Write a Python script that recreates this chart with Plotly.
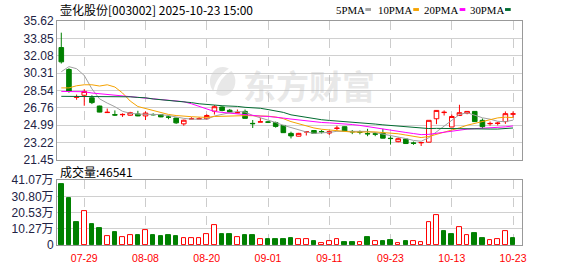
import plotly.graph_objects as go

# ---------------- data ----------------
dates = ["07-24","07-25","07-28","07-29","07-30","07-31","08-01","08-04","08-05","08-06",
         "08-07","08-08","08-11","08-12","08-13","08-14","08-15","08-18","08-19","08-20",
         "08-21","08-22","08-25","08-26","08-27","08-28","08-29","09-01","09-02","09-03",
         "09-04","09-05","09-08","09-09","09-10","09-11","09-12","09-15","09-16","09-17",
         "09-18","09-19","09-22","09-23","09-24","09-25","09-26","09-29","09-30","10-09",
         "10-10","10-13","10-14","10-15","10-16","10-17","10-20","10-21","10-22","10-23"]

opens = [32.91, 30.67, 27.83, 28.04, 27.78, 26.94, 26.27, 26.06, 26.05, 26.00,
         26.13, 25.93, 26.08, 26.07, 25.83, 25.71, 25.12, 25.62, 25.62, 25.64,
         26.42, 26.84, 26.51, 26.24, 26.39, 25.17, 25.30, 25.32, 25.25, 24.96,
         24.15, 23.86, 24.30, 24.44, 24.34, 24.18, 24.65, 24.83, 24.34, 24.30,
         24.13, 24.10, 24.18, 23.65, 23.30, 23.57, 23.17, 23.19, 23.25, 25.64,
         26.27, 24.80, 25.97, 26.22, 26.39, 25.48, 25.13, 25.16, 25.35, 26.11]
highs = [34.43, 30.80, 28.11, 28.66, 28.04, 26.97, 26.68, 26.49, 26.19, 26.35,
         26.45, 26.39, 26.20, 26.10, 25.97, 25.75, 25.55, 25.80, 25.80, 26.10,
         27.04, 26.90, 26.64, 26.58, 26.58, 25.51, 25.74, 25.41, 25.35, 24.98,
         24.32, 24.20, 24.34, 24.46, 24.49, 24.44, 24.93, 24.85, 24.49, 24.44,
         24.61, 24.27, 24.61, 23.86, 23.73, 23.60, 23.31, 23.22, 25.50, 26.52,
         26.49, 26.07, 27.07, 26.41, 26.41, 25.67, 25.35, 25.32, 26.39, 26.39]
lows = [31.28, 28.30, 27.58, 26.97, 27.14, 26.30, 26.26, 25.93, 25.83, 25.95,
        25.90, 25.51, 25.98, 25.80, 25.59, 25.12, 24.93, 25.62, 25.62, 25.55,
        26.07, 26.40, 26.30, 26.24, 25.66, 24.70, 25.30, 25.20, 24.73, 24.20,
        23.63, 23.84, 23.93, 24.13, 24.13, 23.99, 24.44, 24.36, 24.07, 24.05,
        23.86, 23.86, 23.64, 23.00, 23.24, 23.09, 22.98, 22.86, 23.23, 25.09,
        25.97, 24.78, 25.97, 26.10, 25.33, 24.67, 24.93, 24.96, 25.12, 25.74]
closes = [31.45, 28.43, 27.87, 28.43, 27.29, 26.32, 26.30, 26.02, 26.08, 26.26,
          25.93, 26.22, 26.05, 25.83, 25.80, 25.22, 25.49, 25.64, 25.64, 25.97,
          26.87, 26.49, 26.32, 26.27, 25.68, 25.14, 25.33, 25.29, 24.86, 24.22,
          23.89, 24.15, 24.32, 24.15, 24.31, 24.32, 24.68, 24.38, 24.31, 24.27,
          24.10, 24.07, 23.66, 23.62, 23.60, 23.11, 23.14, 23.21, 25.48, 26.49,
          26.30, 25.87, 26.26, 26.39, 25.35, 24.83, 25.16, 25.19, 26.16, 26.14]

ma5 = [30.44, 30.96, 30.75, 30.06, 28.69, 27.67, 27.24, 26.87, 26.40, 26.20,
       26.12, 26.10, 26.11, 26.06, 25.97, 25.82, 25.68, 25.60, 25.56, 25.59,
       25.92, 26.12, 26.26, 26.38, 26.33, 25.98, 25.75, 25.54, 25.26, 24.97,
       24.72, 24.48, 24.29, 24.15, 24.17, 24.25, 24.36, 24.37, 24.40, 24.40,
       24.35, 24.23, 24.09, 23.95, 23.81, 23.62, 23.43, 23.34, 23.71, 24.29,
       24.92, 25.46, 26.07, 26.26, 26.03, 25.74, 25.60, 25.38, 25.34, 25.50]
ma10 = [28.79, 28.79, 29.01, 29.11, 29.11, 28.98, 29.11, 28.88, 28.27, 27.45,
        26.89, 26.67, 26.49, 26.23, 26.08, 25.97, 25.89, 25.85, 25.81, 25.78,
        25.87, 25.90, 25.93, 25.97, 25.96, 25.95, 25.94, 25.90, 25.82, 25.65,
        25.35, 25.12, 24.92, 24.70, 24.57, 24.49, 24.42, 24.33, 24.28, 24.28,
        24.30, 24.30, 24.23, 24.18, 24.11, 23.98, 23.83, 23.72, 23.83, 24.05,
        24.27, 24.45, 24.71, 24.98, 25.16, 25.33, 25.53, 25.73, 25.80, 25.76]
ma20 = [28.43, 28.40, 28.40, 28.40, 28.27, 28.20, 28.14, 28.04, 27.98, 27.88,
        27.82, 27.75, 27.66, 27.58, 27.52, 27.46, 27.38, 27.17, 26.90, 26.61,
        26.38, 26.29, 26.21, 26.10, 26.02, 25.96, 25.91, 25.88, 25.82, 25.71,
        25.61, 25.51, 25.42, 25.34, 25.26, 25.22, 25.18, 25.12, 25.05, 24.96,
        24.83, 24.71, 24.57, 24.44, 24.34, 24.24, 24.13, 24.02, 24.05, 24.17,
        24.29, 24.37, 24.47, 24.58, 24.63, 24.66, 24.68, 24.72, 24.81, 24.91]
ma30 = [27.93, 27.93, 27.92, 27.92, 27.91, 27.91, 27.90, 27.90, 27.89, 27.88,
        27.82, 27.78, 27.66, 27.59, 27.52, 27.46, 27.42, 27.29, 27.17, 27.07,
        27.04, 26.97, 26.95, 26.90, 26.81, 26.78, 26.71, 26.58, 26.45, 26.29,
        26.04, 25.90, 25.78, 25.63, 25.54, 25.47, 25.42, 25.36, 25.30, 25.24,
        25.18, 25.10, 25.02, 24.95, 24.88, 24.81, 24.73, 24.65, 24.64, 24.66,
        24.64, 24.62, 24.62, 24.62, 24.61, 24.60, 24.59, 24.59, 24.63, 24.70]

volumes = [387000, 297000, 146000, 217000, 134000, 104000, 56000, 80000, 48000, 60000,
           62000, 96000, 62000, 56000, 62000, 56000, 44000, 44000, 44000, 66000,
           126000, 68000, 68000, 48000, 62000, 62000, 36000, 38000, 38000, 40000,
           46000, 36000, 36000, 26000, 12000, 26000, 36000, 20000, 20000, 18000,
           50000, 26000, 26000, 32000, 14000, 26000, 26000, 18000, 146000, 187000,
           86000, 68000, 114000, 60000, 74000, 44000, 32000, 38000, 90000, 46541]
vol_up = [0, 0, 0, 1, 0, 0, 1, 0, 1, 1,
          0, 1, 0, 0, 0, 0, 1, 1, 1, 1,
          1, 0, 0, 1, 0, 0, 1, 0, 0, 0,
          0, 1, 1, 0, 1, 1, 1, 0, 0, 1,
          0, 1, 0, 0, 1, 0, 1, 1, 1, 1,
          0, 0, 1, 1, 0, 0, 1, 1, 1, 0]

x_ticks = ["07-29", "08-08", "08-20", "09-01", "09-11", "09-23", "10-13", "10-23"]
price_ticks = [21.45, 23.22, 24.99, 26.76, 28.54, 30.31, 32.08, 33.85, 35.62]
vol_ticks = [0, 102675, 205350, 308025, 410700]
vol_tick_text = ["0", "10.27万", "20.53万", "30.80万", "41.07万"]

title_text = "壶化股份[003002] 2025-10-23 15:00"
vol_title = "成交量:46541"
watermark = "东方财富"
ma_names = ["5PMA", "10PMA", "20PMA", "30PMA"]

# ---------------- styles ----------------
RED = "#ff0000"
GREEN = "#008000"
MA_COLORS = ["#a0a0a0", "#f5a200", "#ff00ff", "#006b30"]
WM = "rgba(190,190,190,0.35)"
W, H = 578, 276
L, R, T, B = 56, 56, 21, 21
PW, PH = W - L - R, H - T - B


def px(xp):
    return (xp - L) / PW


def py(yp):
    return (H - B - yp) / PH


fig = go.Figure()

fig.add_trace(go.Candlestick(
    x=dates, open=opens, high=highs, low=lows, close=closes,
    increasing=dict(line=dict(color=RED, width=1), fillcolor="#ffffff"),
    decreasing=dict(line=dict(color=GREEN, width=1), fillcolor=GREEN),
    whiskerwidth=0, hoverinfo="skip", showlegend=False,
    xaxis="x", yaxis="y"))

for name, vals, col in zip(ma_names, [ma5, ma10, ma20, ma30], MA_COLORS):
    fig.add_trace(go.Scatter(x=dates, y=vals, mode="lines", name=name,
                             line=dict(color=col, width=1), hoverinfo="skip",
                             showlegend=False, xaxis="x", yaxis="y"))

vcol = [("#ffffff" if u else GREEN) for u in vol_up]
vline = [(RED if u else GREEN) for u in vol_up]
fig.add_trace(go.Bar(x=dates, y=volumes, width=0.6,
                     marker=dict(color=vcol, line=dict(color=vline, width=1)),
                     hoverinfo="skip", showlegend=False, xaxis="x2", yaxis="y2"))

xr = [-0.56, 60.17]
common_x = dict(range=xr, tickvals=x_ticks, ticktext=x_ticks, showgrid=True,
                gridcolor="#cccccc", griddash="dash", gridwidth=1,
                showline=True, mirror=True, linecolor="#999999", linewidth=1,
                zeroline=False, type="category", fixedrange=True)

fig.update_layout(
    width=W, height=H,
    margin=dict(l=L, r=R, t=T, b=B, pad=0),
    paper_bgcolor="#ffffff", plot_bgcolor="#ffffff",
    boxgap=0.4, boxgroupgap=0, bargap=0,
    showlegend=False,
    xaxis=dict(**common_x, domain=[0, 1], anchor="y", showticklabels=False,
               rangeslider=dict(visible=False)),
    xaxis2=dict(**common_x, domain=[0, 1], anchor="y2", showticklabels=True,
                matches="x", ticks="outside", ticklen=3, tickcolor="rgba(0,0,0,0)",
                tickfont=dict(family="Liberation Sans, Arial", size=10.5, color=RED)),
    yaxis=dict(domain=[py(166), 1], range=[21.45, 35.62], tickvals=price_ticks,
               ticktext=["%.2f" % v for v in price_ticks],
               showgrid=True, gridcolor="#d0d0d0", gridwidth=1, zeroline=False,
               showline=True, mirror=True, linecolor="#999999", linewidth=1,
               ticks="", tickfont=dict(family="Liberation Sans, Arial", size=12,
                                       color="#222244"), fixedrange=True),
    yaxis2=dict(domain=[0, py(187.2)], range=[0, 410700], tickvals=vol_ticks,
                ticktext=vol_tick_text,
                showgrid=True, gridcolor="#d0d0d0", gridwidth=1, zeroline=False,
                showline=True, mirror=True, linecolor="#999999", linewidth=1,
                ticks="", tickfont=dict(family="Liberation Sans, Noto Sans CJK SC",
                                        size=12, color="#222244"), fixedrange=True),
)

annotations = [
    dict(text=title_text, x=px(57), y=py(8.5), xref="paper", yref="paper",
         xanchor="left", yanchor="middle", showarrow=False,
         font=dict(family="Noto Sans CJK SC", size=12, color="#000000")),
    dict(text=vol_title, x=px(57), y=py(178), xref="paper", yref="paper",
         xanchor="left", yanchor="middle", showarrow=False,
         font=dict(family="Noto Sans CJK SC", size=12, color="#000000")),
    dict(text=watermark, x=px(308.5), y=py(87.5), xref="paper", yref="paper",
         xanchor="center", yanchor="middle", showarrow=False,
         font=dict(family="Noto Sans CJK SC", size=33, color=WM, weight=700)),
]

shapes = []
# watermark logo (a soft disc with a swoosh cut)
cx, cy, rr = 222, 84, 15
shapes.append(dict(type="circle", xref="paper", yref="paper",
                   x0=px(cx - rr * 0.85), x1=px(cx + rr * 0.85),
                   y0=py(cy + rr), y1=py(cy - rr),
                   fillcolor=WM, line=dict(width=0), layer="below"))
swoosh = "M %f,%f Q %f,%f %f,%f" % (px(cx - 8), py(cy + 12), px(cx - 6), py(cy - 4),
                                     px(cx + 9), py(cy - 13))
shapes.append(dict(type="path", xref="paper", yref="paper", path=swoosh,
                   line=dict(color="#ffffff", width=3), layer="below"))

legend_text_x = [350.5, 395, 440.5, 486.5]
legend_box_x = [365, 413, 459.5, 505]
for name, tx, bx, col in zip(ma_names, legend_text_x, legend_box_x, MA_COLORS):
    annotations.append(dict(text=name, x=px(tx), y=py(9), xref="paper", yref="paper",
                            xanchor="center", yanchor="middle", showarrow=False,
                            font=dict(family="Liberation Serif, serif", size=10.8,
                                      color="#000000")))
    shapes.append(dict(type="rect", xref="paper", yref="paper",
                       x0=px(bx), x1=px(bx + 5.7), y0=py(10.5), y1=py(7.5),
                       fillcolor=col, line=dict(width=0)))

fig.update_layout(annotations=annotations, shapes=shapes)

fig.write_html("out.html", config={"displayModeBar": False})
